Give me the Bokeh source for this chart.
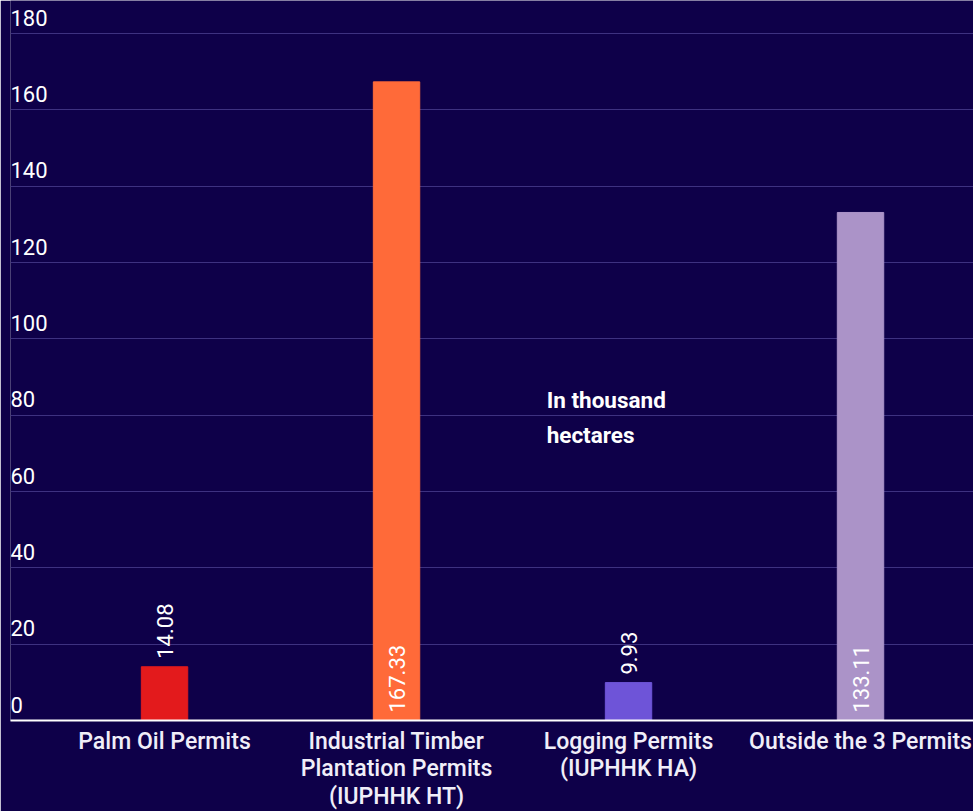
from bokeh.plotting import figure
from bokeh.models import Range1d, FixedTicker, ColumnDataSource
from bokeh.core.properties import value
from bokeh.embed import file_html
from bokeh.resources import INLINE
import math

categories = ["Palm Oil Permits", "Industrial Timber\nPlantation Permits\n(IUPHHK HT)",
              "Logging Permits\n(IUPHHK HA)", "Outside the 3 Permits"]
values = [14.08, 167.33, 9.93, 133.11]
colors = ["#e31a1c", "#ff6a39", "#6e54d8", "#ab93c8"]
y_ticks = [0, 20, 40, 60, 80, 100, 120, 140, 160, 180]

BG = "#0e0049"
xs = list(range(len(categories)))

p = figure(frame_width=963, frame_height=720, output_backend="svg", toolbar_location=None,
           x_range=Range1d(-0.664, 3.487), y_range=Range1d(0, 188.65),
           y_axis_location=None, min_border_left=10, min_border_right=0,
           min_border_top=0, min_border_bottom=0)
p.background_fill_color = BG
p.border_fill_color = BG
p.outline_line_color = None

p.xgrid.grid_line_color = None
p.ygrid.ticker = FixedTicker(ticks=y_ticks)
p.ygrid.grid_line_color = "#3d3180"
p.ygrid.grid_line_width = 1

src = ColumnDataSource(dict(x=xs, top=values, color=colors))
p.vbar(x="x", top="top", width=0.2, color="color", source=src)

# tick labels drawn above grid lines
p.text(x=[-0.664] * len(y_ticks), y=y_ticks, text=[str(t) for t in y_ticks],
       text_color="white", text_font=value("Roboto"), text_font_size="22px",
       text_align="left", text_baseline="bottom", y_offset=-8)

# value labels: outside for short bars, inside for tall
inside = [v > 50 for v in values]
out_x = [x for x, i in zip(xs, inside) if not i]
out_y = [v for v, i in zip(values, inside) if not i]
out_t = ["%.2f" % v for v, i in zip(values, inside) if not i]
in_x = [x for x, i in zip(xs, inside) if i]
in_t = ["%.2f" % v for v, i in zip(values, inside) if i]
p.text(x=out_x, y=out_y, text=out_t, angle=math.pi / 2, text_color="white",
       text_font=value("Roboto"), text_font_size="22px", text_align="left",
       text_baseline="middle", y_offset=-8)
p.text(x=in_x, y=[0] * len(in_x), text=in_t, angle=math.pi / 2, text_color="white",
       text_font=value("Roboto"), text_font_size="22px", text_align="left",
       text_baseline="middle", y_offset=-8)

p.text(x=[1.647], y=[79.4], text=["In thousand\nhectares"], text_color="white",
       text_font=value("Roboto"), text_font_size="22.5px", text_font_style="bold",
       text_align="left", text_baseline="middle", text_line_height=1.37)

p.xaxis.ticker = FixedTicker(ticks=xs)
p.xaxis.major_label_overrides = {i: c for i, c in enumerate(categories)}
p.xaxis.major_label_text_color = "#f0eef8"
p.xaxis.major_label_text_font = "Roboto Medium"
p.xaxis.major_label_text_font_size = "23px"
p.xaxis.major_label_text_line_height = 1.02
p.xaxis.major_label_standoff = 1
p.xaxis.major_tick_line_color = None
p.xaxis.minor_tick_line_color = None
p.xaxis.axis_line_color = "white"
p.xaxis.axis_line_width = 2

open("out.html", "w").write(file_html(p, INLINE))
